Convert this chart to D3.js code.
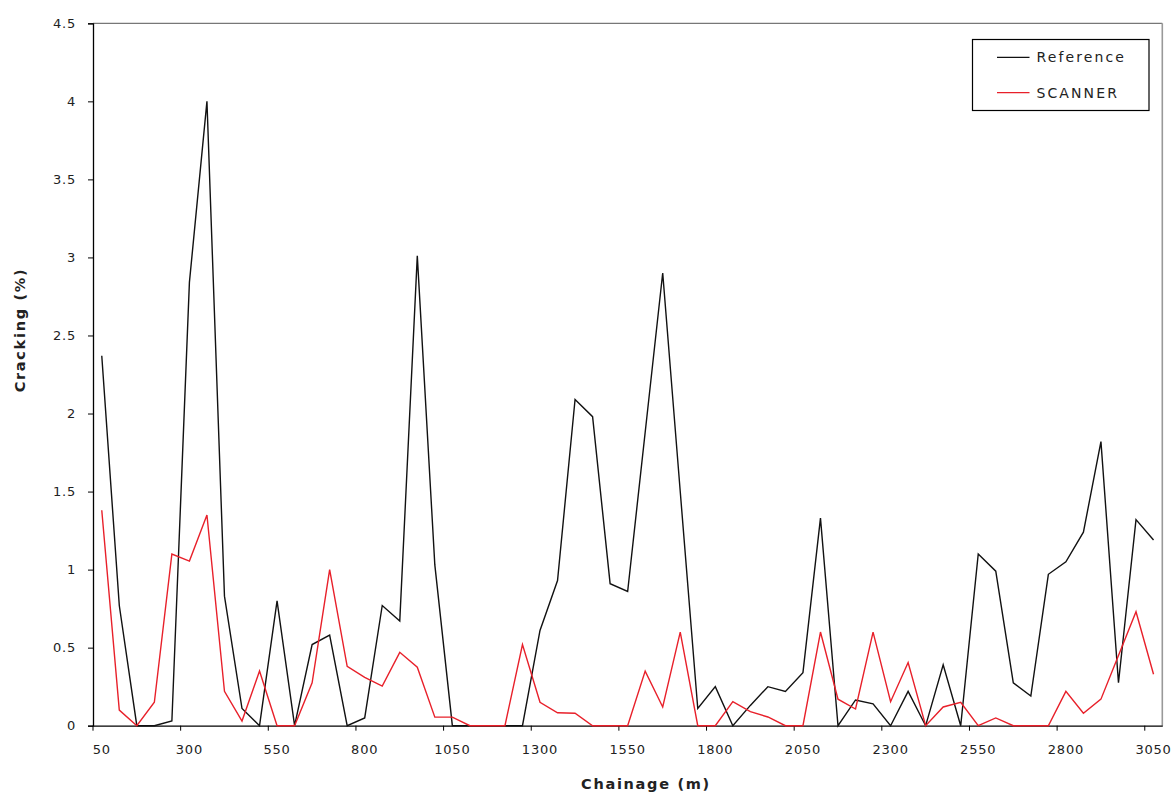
<!DOCTYPE html>
<html>
<head>
<meta charset="utf-8">
<script src="https://cdn.jsdelivr.net/npm/d3@7/dist/d3.min.js"></script>
<style>
  html, body { margin: 0; padding: 0; background: #fff; }
  svg { display: block; }
  text { font-family: "DejaVu Sans", Verdana, sans-serif; fill: #222; }
</style>
</head>
<body>
<svg id="chart" width="1174" height="794"></svg>
<script>
// Chainage categories (m)
const chainage = d3.range(61).map(i => 50 + i * 50);

// Reference series (% cracking)
const reference = [
  2.37, 0.77, 0, 0, 0.03, 2.84, 4.0, 0.83, 0.11, 0,
  0.80, 0, 0.52, 0.58, 0, 0.05, 0.77, 0.67, 3.01, 1.03,
  0, 0, 0, 0, 0, 0.61, 0.93, 2.09, 1.98, 0.91,
  0.86, 1.88, 2.90, 1.50, 0.11, 0.25, 0, 0.13, 0.25, 0.22,
  0.34, 1.33, 0, 0.165, 0.14, 0, 0.22, 0, 0.39, 0,
  1.10, 0.99, 0.275, 0.19, 0.97, 1.05, 1.24, 1.82, 0.275, 1.32,
  1.19
];

// SCANNER series (% cracking)
const scanner = [
  1.38, 0.10, 0, 0.15, 1.10, 1.055, 1.35, 0.22, 0.03, 0.35,
  0, 0, 0.275, 1.0, 0.38, 0.31, 0.254, 0.47, 0.375, 0.055,
  0.055, 0, 0, 0, 0.52, 0.15, 0.083, 0.08, 0, 0,
  0, 0.35, 0.12, 0.60, 0, 0, 0.154, 0.09, 0.056, 0,
  0, 0.60, 0.17, 0.107, 0.60, 0.154, 0.405, 0, 0.12, 0.15,
  0, 0.05, 0, 0, 0, 0.22, 0.08, 0.17, 0.45, 0.73,
  0.33
];

const yTicks = [0, 0.5, 1, 1.5, 2, 2.5, 3, 3.5, 4, 4.5];
const xTickLabels = chainage.filter((d, i) => i % 5 === 0);

const seriesNames = ["Reference", "SCANNER"];
const seriesColors = ["#111111", "#e8202a"];

const svg = d3.select("#chart");
const m = { left: 93, right: 1162.3, top: 23.3, bottom: 725.7 };

const x = d3.scaleBand().domain(chainage).range([m.left, m.right]).padding(0);
const y = d3.scaleLinear().domain([0, 4.5]).range([m.bottom, m.top]);
const bw = x.bandwidth();

// plot area border (top/right in gray)
svg.append("line").attr("x1", m.left).attr("x2", m.right).attr("y1", m.top).attr("y2", m.top)
  .attr("stroke", "#777").attr("stroke-width", 1.2);
svg.append("line").attr("x1", m.right).attr("x2", m.right).attr("y1", m.top).attr("y2", m.bottom)
  .attr("stroke", "#999").attr("stroke-width", 1.6);

// Y axis
const yAxis = d3.axisLeft(y).tickValues(yTicks).tickFormat(d => String(d)).tickSize(5).tickPadding(12);
const gy = svg.append("g").attr("transform", `translate(${m.left},0)`).call(yAxis);
gy.select(".domain").attr("stroke", "#000").attr("stroke-width", 1.3);
gy.selectAll(".tick line").attr("stroke", "#000");
gy.selectAll(".tick text").attr("font-size", "13px").style("letter-spacing", "0.8px")
  .attr("fill", "#222").attr("font-family", "DejaVu Sans, Verdana, sans-serif");

// X axis
const xAxis = d3.axisBottom(x).tickValues(xTickLabels).tickSize(5).tickPadding(14).tickSizeOuter(0);
const gx = svg.append("g").attr("transform", `translate(0,${m.bottom})`).call(xAxis);
gx.select(".domain").attr("stroke", "#000").attr("stroke-width", 1.3);
gx.selectAll(".tick line").attr("stroke", "#000").attr("transform", `translate(${-bw / 2},0)`);
gx.selectAll(".tick text").attr("font-size", "13px").style("letter-spacing", "0.8px")
  .attr("fill", "#222").attr("font-family", "DejaVu Sans, Verdana, sans-serif");

// Lines
const line = d3.line().x((d, i) => x(chainage[i]) + bw / 2).y(d => y(d));
[reference, scanner].forEach((s, k) => {
  svg.append("path").datum(s).attr("d", line)
    .attr("fill", "none").attr("stroke", seriesColors[k]).attr("stroke-width", 1.4)
    .attr("stroke-linejoin", "miter");
});

// Axis titles
svg.append("text").attr("x", 646).attr("y", 789).attr("text-anchor", "middle")
  .attr("font-size", "14.5px").attr("font-weight", "bold").style("letter-spacing", "1.7px")
  .text("Chainage (m)");
svg.append("text").attr("transform", "translate(25,330) rotate(-90)").attr("text-anchor", "middle")
  .attr("font-size", "14.5px").attr("font-weight", "bold").style("letter-spacing", "1.7px")
  .text("Cracking (%)");

// Legend
const lg = svg.append("g");
lg.append("rect").attr("x", 972.5).attr("y", 39.5).attr("width", 176.5).attr("height", 71)
  .attr("fill", "#fff").attr("stroke", "#000").attr("stroke-width", 1.2);
seriesNames.forEach((n, k) => {
  const cy = 57.3 + k * 35.4;
  lg.append("line").attr("x1", 997).attr("x2", 1029.5).attr("y1", cy).attr("y2", cy)
    .attr("stroke", seriesColors[k]).attr("stroke-width", 1.3);
  lg.append("text").attr("x", 1036.5).attr("y", cy + 5).attr("font-size", "14px")
    .style("letter-spacing", "2.1px").text(n);
});
</script>
</body>
</html>
